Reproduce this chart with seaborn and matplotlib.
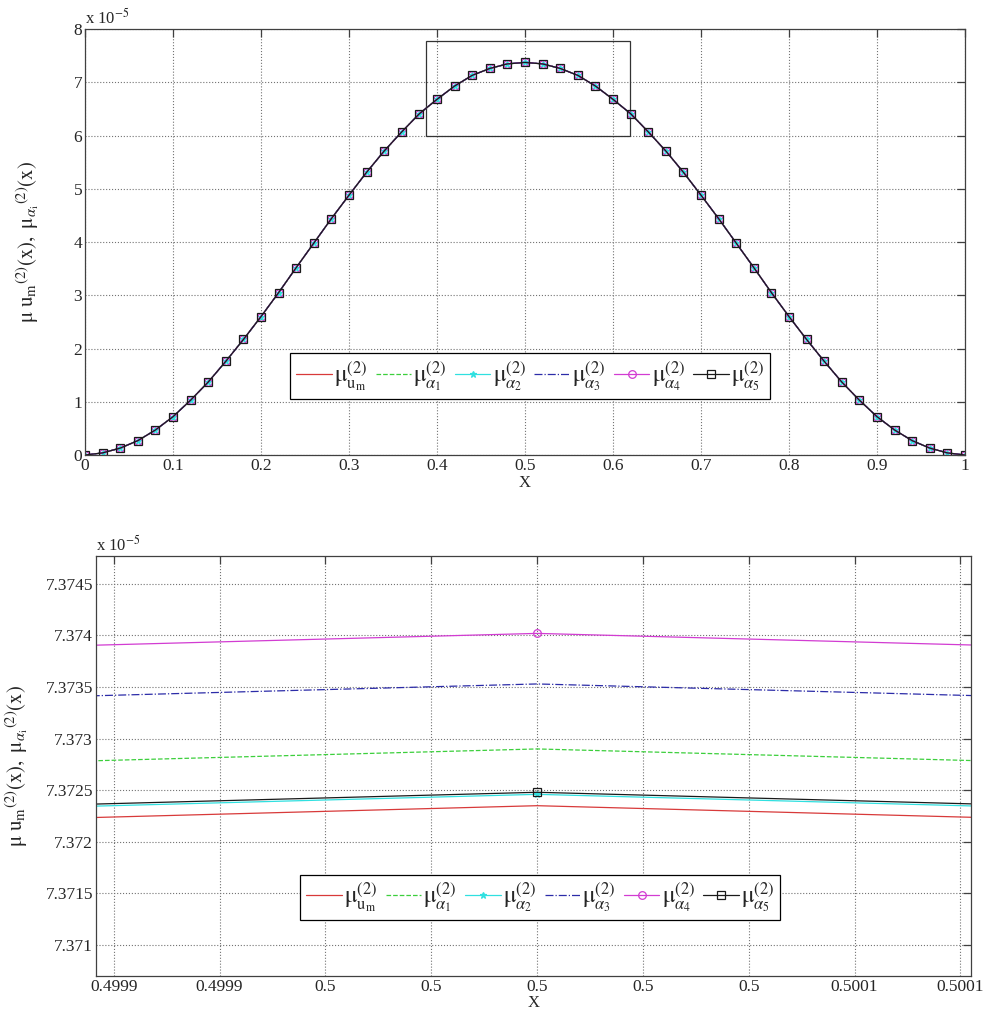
import numpy as np
import pandas as pd
import matplotlib
matplotlib.use("Agg")
import matplotlib.pyplot as plt
from matplotlib.patches import Rectangle
from matplotlib.ticker import FuncFormatter
import seaborn as sns

# ---------------- data (values in units of 1e-5) ----------------
x_pts = [round(0.02 * i, 2) for i in range(51)]

# shared curve (x = 0 .. 0.46 and 0.54 .. 1.0)
curve_left = [0.0, 0.04, 0.13, 0.27, 0.47, 0.72, 1.03, 1.37, 1.76, 2.17, 2.60, 3.05,
              3.52, 3.98, 4.44, 4.88, 5.31, 5.71, 6.07, 6.41, 6.68, 6.93, 7.13, 7.26]
curve_right = [7.26, 7.13, 6.93, 6.68, 6.41, 6.07, 5.71, 5.31, 4.88, 4.44, 3.98, 3.52,
               3.05, 2.60, 2.17, 1.76, 1.37, 1.03, 0.72, 0.47, 0.27, 0.13, 0.04, 0.0]

# per-series values near the peak (x = 0.48, 0.50, 0.52)
series_names = ["um", "a1", "a2", "a3", "a4", "a5"]
near_048 = [7.34495, 7.34550, 7.34506, 7.34613, 7.34662, 7.34508]
peak_050 = [7.37235, 7.37290, 7.37246, 7.37353, 7.37402, 7.37248]
near_052 = [7.34495, 7.34550, 7.34506, 7.34613, 7.34662, 7.34508]

legend_labels = [r"$\mathrm{μ}_{\mathrm{u}_\mathrm{m}}^{(2)}$",
                 r"$\mathrm{μ}_{\alpha_1}^{(2)}$", r"$\mathrm{μ}_{\alpha_2}^{(2)}$",
                 r"$\mathrm{μ}_{\alpha_3}^{(2)}$", r"$\mathrm{μ}_{\alpha_4}^{(2)}$",
                 r"$\mathrm{μ}_{\alpha_5}^{(2)}$"]
y_label = (r"$\mathrm{μ\ u}_\mathrm{m}{}^{(2)}\mathrm{(x),\ μ}_{\alpha_\mathrm{i}}"
           r"{}^{(2)}\mathrm{(x)}$")

zoom_box = [0.387, 0.619, 6.0, 7.78]  # x0, x1, y0, y1

top_xticks = [0, 0.1, 0.2, 0.3, 0.4, 0.5, 0.6, 0.7, 0.8, 0.9, 1.0]
top_yticks = [0, 1, 2, 3, 4, 5, 6, 7, 8]
bot_xticks = [0.49992, 0.49994, 0.49996, 0.49998, 0.5, 0.50002, 0.50004, 0.50006, 0.50008]
bot_yticks = [7.371, 7.3715, 7.372, 7.3725, 7.373, 7.3735, 7.374, 7.3745]

# ---------------- styles ----------------
colors = ["#d83a3a", "#3ccf3c", "#30e0e0", "#2c2ca8", "#d23cd2", "#1a1a1a"]
lstyles = ["-", "--", "-", "-.", "-", "-"]
markers = [None, None, "*", None, "o", "s"]

sns.set_theme(style="white")
plt.rcParams["font.family"] = ["Liberation Serif", "DejaVu Serif"]
plt.rcParams["mathtext.fontset"] = "stix"

rows = []
for i, name in enumerate(series_names):
    ys = curve_left + [near_048[i], peak_050[i], near_052[i]] + curve_right
    for xv, yv in zip(x_pts, ys):
        rows.append({"x": xv, "y": yv, "series": name})
df = pd.DataFrame(rows)

fig = plt.figure(figsize=(9.84, 10.15), dpi=100)
ax1 = fig.add_axes([0.0864, 0.5517, 0.8943, 0.4197])
ax2 = fig.add_axes([0.0973, 0.0385, 0.8895, 0.4137])


def draw(ax):
    for i, name in enumerate(series_names):
        d = df[df["series"] == name]
        kw = dict(color=colors[i], linestyle=lstyles[i], linewidth=0.9, label=legend_labels[i])
        if markers[i] is not None:
            kw.update(marker=markers[i], markersize=5.5 if markers[i] != "*" else 5,
                      markeredgewidth=0.9)
            if markers[i] in ("o", "s"):
                kw.update(markerfacecolor="none", markeredgecolor=colors[i])
            else:
                kw.update(markeredgecolor=colors[i], markerfacecolor=colors[i])
        sns.lineplot(data=d, x="x", y="y", ax=ax, estimator=None, sort=True, **kw)


def style(ax):
    ax.grid(True, linestyle=":", color="0.45", linewidth=0.8)
    for s in ax.spines.values():
        s.set_color("0.25")
        s.set_linewidth(0.9)
    ax.tick_params(direction="in", top=True, right=True, length=6, width=0.9,
                   color="0.25", labelsize=12.5, pad=2)
    ax.set_xlabel("X", fontsize=12)
    ax.set_ylabel(y_label, fontsize=15)


for ax in (ax1, ax2):
    draw(ax)
    style(ax)

# top panel
ax1.set_xlim(0, 1)
ax1.set_ylim(0, 8)
ax1.set_xticks(top_xticks)
ax1.set_xticklabels([f"{t:g}" for t in top_xticks])
ax1.set_yticks(top_yticks)
ax1.add_patch(Rectangle((zoom_box[0], zoom_box[2]), zoom_box[1] - zoom_box[0],
                        zoom_box[3] - zoom_box[2], fill=False, edgecolor="0.2", linewidth=0.9))
ax1.xaxis.set_label_coords(0.5, -0.047)
ax1.yaxis.set_label_coords(-0.05, 0.5)
ax1.text(0.0, 1.004, r"x 10$^{-5}$", transform=ax1.transAxes, ha="left", va="bottom", fontsize=12)

# bottom panel
ax2.set_xlim(0.4999166, 0.5000820)
ax2.set_ylim(7.37070, 7.37477)
ax2.set_xticks(bot_xticks)
ax2.xaxis.set_major_formatter(FuncFormatter(lambda v, p: f"{v:.4g}"))
ax2.set_yticks(bot_yticks)
ax2.yaxis.set_major_formatter(FuncFormatter(lambda v, p: f"{v:.5g}"))
ax2.xaxis.set_label_coords(0.5, -0.045)
ax2.yaxis.set_label_coords(-0.075, 0.5)
ax2.text(0.0, 1.004, r"x 10$^{-5}$", transform=ax2.transAxes, ha="left", va="bottom", fontsize=12)

for ax, anchor in ((ax1, (0.506, 0.185)), (ax2, (0.508, 0.187))):
    h, l = ax.get_legend_handles_labels()
    leg = ax.legend(h, l, loc="center", bbox_to_anchor=anchor, ncol=6, fontsize=17,
                    frameon=True, fancybox=False, edgecolor="black", framealpha=1,
                    handlelength=1.5, handletextpad=0.1, columnspacing=0.35, borderpad=0.25)
    leg.get_frame().set_linewidth(0.9)

fig.savefig("out.png", dpi=100)
